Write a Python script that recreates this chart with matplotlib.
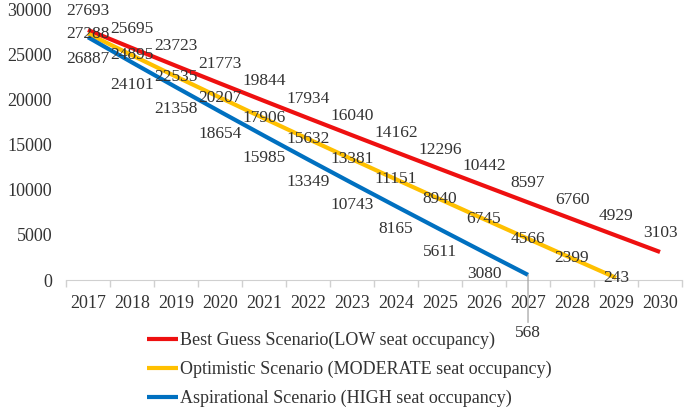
import matplotlib
matplotlib.use("Agg")
import matplotlib.pyplot as plt
import numpy as np

# data
years = [2017, 2018, 2019, 2020, 2021, 2022, 2023, 2024, 2025, 2026, 2027, 2028, 2029, 2030]
best_guess = [27693, 25695, 23723, 21773, 19844, 17934, 16040, 14162, 12296, 10442, 8597, 6760, 4929, 3103]
optimistic = [27288, 24895, 22535, 20207, 17906, 15632, 13381, 11151, 8940, 6745, 4566, 2399, 243]
aspirational = [26887, 24101, 21358, 18654, 15985, 13349, 10743, 8165, 5611, 3080, 568]

labels = ["Best Guess Scenario(LOW seat occupancy)",
          "Optimistic Scenario (MODERATE seat occupancy)",
          "Aspirational Scenario (HIGH seat occupancy)"]
colors = ["#EE1010", "#FFC000", "#0070C0"]

plt.rcParams['font.family'] = ['Liberation Serif', 'DejaVu Serif']
txt_col = "#333333"

fig = plt.figure(figsize=(6.86, 4.11), dpi=100)
ax = fig.add_axes([0.0962, 0.3187, 0.898, 0.659])

series = [best_guess, optimistic, aspirational]
offsets = [14, 0, -16]   # points: red above, yellow centred, blue below
for vals, lab, col, off in zip(series, labels, colors, offsets):
    x = np.arange(len(vals))
    ax.plot(x, vals, color=col, lw=3, label=lab, solid_capstyle='butt')
    for xi, v in zip(x, vals):
        if vals is aspirational and v == 568:
            # last blue label pushed under the axis with a leader line
            ax.annotate(str(v), (xi, v), xytext=(0, -42), textcoords='offset points',
                        ha='center', va='center', fontsize=12.5, color=txt_col,
                        annotation_clip=False,
                        arrowprops=dict(arrowstyle='-', color='#999999', lw=0.8,
                                        shrinkA=0, shrinkB=0, relpos=(0.5, 1.0)))
            continue
        ax.annotate(str(v), (xi, v), xytext=(0, off), textcoords='offset points',
                    ha='center', va='center', fontsize=12.5, color=txt_col)

ax.set_xlim(-0.5, len(years) - 0.5)
ax.set_ylim(0, 30000)
ax.set_yticks(range(0, 30001, 5000))
ax.set_xticks(np.arange(len(years) + 1) - 0.5)
ax.set_xticklabels([])
ax.set_xticks(np.arange(len(years)), minor=True)
ax.set_xticklabels([str(y) for y in years], minor=True)
ax.tick_params(axis='x', which='major', length=5, color='#D0D0D0', width=1)
ax.tick_params(axis='x', which='minor', length=0, pad=11, labelsize=13, labelcolor=txt_col)
ax.tick_params(axis='y', length=0, pad=10, labelsize=13, labelcolor=txt_col)

for s in ['top', 'right', 'left']:
    ax.spines[s].set_visible(False)
ax.spines['bottom'].set_color('#D0D0D0')
ax.patch.set_alpha(0)

leg = fig.legend(loc='upper left', bbox_to_anchor=(0.214, 0.193), bbox_transform=fig.transFigure,
                 frameon=False, fontsize=13, handlelength=1.75, handletextpad=0.1,
                 labelspacing=0.65, borderpad=0, borderaxespad=0)
for t in leg.get_texts():
    t.set_color(txt_col)

fig.savefig("out.png", dpi=100)
